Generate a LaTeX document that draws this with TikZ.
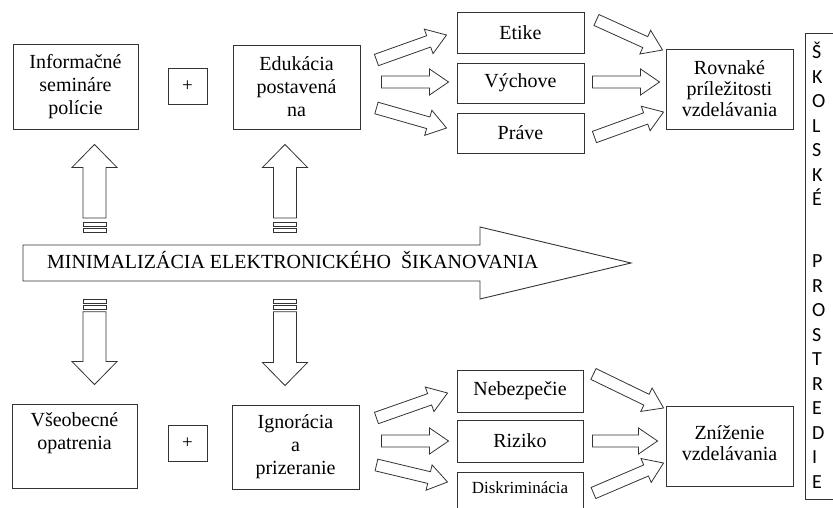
\documentclass[tikz,border=0pt]{standalone}
\usepackage{fontspec}
\setmainfont{Liberation Serif}
\newfontfamily\colfont{Carlito}
\usetikzlibrary{calc}

\tikzset{
  box/.style={draw=black!80, line width=0.9pt, align=center, inner sep=0pt,
    font=\fontsize{20}{23}\selectfont},
  plus/.style={draw=black!80, line width=0.9pt, inner sep=0pt,
    minimum width=39pt, minimum height=36pt, font=\fontsize{19}{22}\selectfont},
  blockarr/.style n args={3}{draw=black!80, line width=0.8pt, fill=white,
    to path={let \p1=(\tikztostart), \p2=(\tikztotarget) in
      ($(\p1)!#1!90:(\p2)$) -- ($(\p2)!#3!(\p1)!#1!90:(\p2)$)
      -- ($(\p2)!#3!(\p1)!#2!90:(\p2)$) -- (\p2)
      -- ($(\p2)!#3!(\p1)!#2!-90:(\p2)$) -- ($(\p2)!#3!(\p1)!#1!-90:(\p2)$)
      -- ($(\p1)!#1!-90:(\p2)$) -- cycle}},
  thinarr/.style={blockarr={6pt}{13pt}{19pt}},
  vertarr/.style={blockarr={11.5pt}{22.5pt}{23pt}},
  stripe/.style={draw=black!80, line width=0.7pt, fill=white}
}

\begin{document}
\begin{tikzpicture}[x=1pt,y=-1pt]
\useasboundingbox (0,0) rectangle (833,508);

\node[box, minimum width=125pt, minimum height=85pt] (info) at (75.5,86.5) {Informačné\\semináre\\polície};
\node[plus] (plusa) at (187.5,86) {+};
\node[box, minimum width=127pt, minimum height=84pt] (edu) at (296.5,87) {Edukácia\\postavená\\na};
\node[box, minimum width=127pt, minimum height=41pt] (etike) at (520.5,32.5) {Etike};
\node[box, minimum width=127pt, minimum height=40pt] (vych) at (520.5,83) {Výchove};
\node[box, minimum width=127pt, minimum height=40pt] (prave) at (520.5,133) {Práve};
\node[box, minimum width=127pt, minimum height=80pt, font=\fontsize{20}{21}\selectfont] (rovn) at (729.5,89) {Rovnaké\\príležitosti\\vzdelávania};

\node[box, minimum width=125pt, minimum height=84pt] (vseo) at (74.5,446) {Všeobecné\\opatrenia\\\strut};
\node[plus] (plusb) at (187.5,443.5) {+};
\node[box, minimum width=127pt, minimum height=84pt] (ign) at (295.5,447) {Ignorácia\\a\\prizeranie};
\node[box, minimum width=126pt, minimum height=42pt] (nebez) at (520,391) {Nebezpečie};
\node[box, minimum width=126pt, minimum height=42pt] (rizi) at (520,441) {Riziko};
\node[box, minimum width=126pt, minimum height=40pt, text depth=8pt, font=\fontsize{17}{20}\selectfont] (diskr) at (520,492) {Diskriminácia};
\node[box, minimum width=127pt, minimum height=80pt, text depth=6pt, font=\fontsize{20}{21}\selectfont] (zniz) at (729.5,446) {Zníženie\\vzdelávania};

\draw[draw=black!80, line width=0.9pt] (23,245) -- (480,245) -- (480,227) -- (631,263) -- (480,299) -- (480,281) -- (23,281) -- cycle;
\node[anchor=base west, inner sep=0pt, font=\fontsize{20}{23}\selectfont] (mini) at (47,268.5) {MINIMALIZÁCIA ELEKTRONICKÉHO\ \ ŠIKANOVANIA};

\coordinate (ua) at (94.5,218);
\coordinate (ub) at (285,218);
\coordinate (da) at (94.5,311.7);
\coordinate (db) at (285,311.7);

\draw[vertarr] (ua) to ($(ua |- info.south)+(0,15)$);
\draw[vertarr] (ub) to ($(ub |- edu.south)+(0,15)$);
\draw[vertarr] (da) to ($(da |- vseo.north)+(0,-19)$);
\draw[vertarr] (db) to ($(db |- ign.north)+(0,-19)$);

\draw[stripe] ($(ua)+(-11.5,4)$) rectangle ++(23,4);
\draw[stripe] ($(ua)+(-11.5,10)$) rectangle ++(23,4);
\draw[stripe] ($(ub)+(-11.5,4)$) rectangle ++(23,4);
\draw[stripe] ($(ub)+(-11.5,10)$) rectangle ++(23,4);
\draw[stripe] ($(da)+(-11.5,-12)$) rectangle ++(23,4);
\draw[stripe] ($(da)+(-11.5,-6)$) rectangle ++(23,4);
\draw[stripe] ($(db)+(-11.5,-12)$) rectangle ++(23,4);
\draw[stripe] ($(db)+(-11.5,-6)$) rectangle ++(23,4);

\draw[thinarr] ($(edu.east)+(16,-27)$) to ($(etike.west)+(-10,2.5)$);
\draw[thinarr] ($(edu.east)+(21,-5)$) to ($(vych.west)+(-8,-1)$);
\draw[thinarr] ($(edu.east)+(16,21)$) to ($(prave.west)+(-10,-5)$);
\draw[thinarr] ($(etike.east)+(12,-12.5)$) to ($(rovn.west)+(-3,-39)$);
\draw[thinarr] ($(vych.east)+(8,-1)$) to ($(rovn.west)+(-6,-7)$);
\draw[thinarr] ($(prave.east)+(10,4)$) to ($(rovn.west)+(-2,23)$);

\draw[thinarr] ($(ign.east)+(17,-29)$) to ($(nebez.west)+(-9,2)$);
\draw[thinarr] ($(ign.east)+(22,-6)$) to ($(rizi.west)+(-8,0)$);
\draw[thinarr] ($(ign.east)+(17,18)$) to ($(diskr.west)+(-9,-10)$);
\draw[thinarr] ($(nebez.east)+(10,-17)$) to ($(zniz.west)+(-2,-38)$);
\draw[thinarr] ($(rizi.east)+(9,0)$) to ($(zniz.west)+(-8,-5)$);
\draw[thinarr] ($(diskr.east)+(10,1)$) to ($(zniz.west)+(-2,17)$);

\node[draw=black!80, line width=0.9pt, anchor=north west, minimum width=40pt, minimum height=466pt] (ramec) at (805,33) {};
\node[anchor=north west, inner sep=0pt, align=left, font=\colfont\fontsize{20}{24.5}\selectfont] (skol) at (812,42) {Š\\K\\O\\L\\S\\K\\É\\[37.5pt]P\\R\\O\\S\\T\\R\\E\\D\\I\\E};

\end{tikzpicture}
\end{document}
